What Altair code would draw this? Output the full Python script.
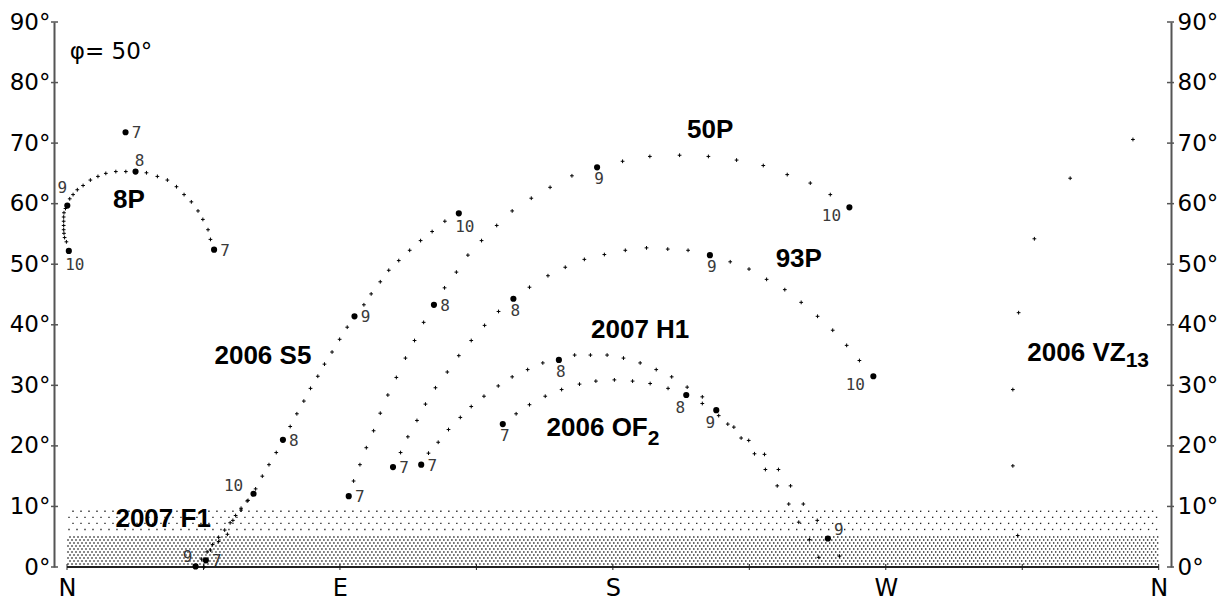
import altair as alt
import pandas as pd

# ---------------------------------------------------------------------------
# Comet paths across the sky, July - October 2007, observer at latitude 50 N.
# Azimuth in degrees from North through East, altitude in degrees.
# Points are a few days apart; *_MONTHS gives the index of the point that
# falls on the 1st of a month (7 = July ... 10 = October).
# ---------------------------------------------------------------------------

C8P_AZ = [48.5, 47.3, 46.5, 44.8, 43.2, 41.0, 38.6, 36.1, 33.1, 29.8, 26.2,
          22.6, 19.4, 16.1, 12.8, 10.2, 7.7, 5.3, 3.4, 2.0, 0.9,
          0.1, -0.5, -1.0, -1.1, -1.1, -1.1, -1.1, -1.0, -0.8, -0.2, 0.6]
C8P_ALT = [52.4, 54.1, 55.7, 57.4, 58.8, 60.3, 61.5, 62.8, 63.9, 64.5, 65.1,
           65.3, 65.3, 65.3, 65.0, 64.5, 63.9, 63.0, 62.3, 61.5, 60.8,
           59.7, 59.2, 58.5, 57.8, 57.1, 56.4, 55.7, 55.1, 54.4, 53.7, 52.2]
C8P_MONTHS = {0: 7, 11: 8, 21: 9, 31: 10}

VZ13_AZ = [19.3, 351.5, 330.8, 319.0, 313.8, 311.9, 311.9, 313.5]
VZ13_ALT = [71.8, 70.6, 64.2, 54.2, 42.0, 29.3, 16.7, 5.2]
VZ13_MONTHS = {0: 7}

S5_AZ = [45.2, 45.8, 47.3, 50.0, 52.9, 54.7, 57.4, 59.7, 62.2, 64.4, 66.6, 69.0,
         71.2, 73.6, 75.8, 78.1, 80.3, 82.7, 84.9, 87.4, 89.9, 92.4,
         94.8, 97.9, 100.3, 103.3, 106.1, 109.4, 113.0, 116.6, 120.4, 124.6, 129.2]
S5_ALT = [0.0, 1.1, 2.8, 4.2, 5.4, 7.7, 9.4, 11.0, 12.9, 15.0, 16.9, 18.9,
          21.0, 23.2, 25.3, 27.4, 29.5, 31.5, 33.5, 35.5, 37.6, 39.6,
          41.4, 43.3, 45.1, 47.1, 49.0, 50.6, 52.3, 53.9, 55.4, 57.1, 58.4]
S5_MONTHS = {1: 7, 12: 8, 22: 9, 32: 10}

F1_AZ = [42.4, 44.4, 46.2, 48.0, 50.0, 52.0, 53.8, 55.6, 57.4, 59.4, 61.5]
F1_ALT = [0.1, 1.3, 2.5, 3.7, 4.9, 6.1, 7.3, 8.5, 9.7, 10.9, 12.1]
F1_MONTHS = {0: 9, 10: 10}

C50P_AZ = [92.9, 94.5, 96.6, 98.7, 101.1, 103.3, 105.8, 108.6, 111.6, 114.6, 117.6,
           121.0, 124.5, 128.4, 132.2, 136.7, 141.7, 146.8, 153.1, 159.3, 166.5,
           174.8, 183.2, 192.2, 202.0, 211.5, 220.8, 229.6, 237.5, 245.1, 251.7, 258.0]
C50P_ALT = [11.7, 14.2, 16.9, 19.7, 22.5, 25.4, 28.4, 31.3, 34.5, 37.4, 40.4,
            43.3, 46.1, 48.7, 51.5, 53.9, 56.4, 58.8, 60.9, 62.7, 64.6,
            66.0, 67.0, 67.8, 68.0, 67.8, 67.2, 66.3, 64.8, 63.4, 61.5, 59.4]
C50P_MONTHS = {0: 7, 11: 8, 21: 9, 31: 10}

C93P_AZ = [107.5, 110.0, 112.4, 115.4, 118.2, 121.5, 125.4, 129.2, 133.3, 137.7, 142.3,
           147.2, 152.5, 158.6, 164.3, 170.6, 177.2, 184.1, 191.1, 198.1, 204.8,
           212.0, 218.7, 224.9, 230.7, 236.7, 242.1, 247.5, 252.5, 257.1, 261.3, 265.9]
C93P_ALT = [16.5, 18.9, 21.5, 24.2, 26.9, 29.6, 32.2, 34.9, 37.4, 39.9, 42.2,
            44.3, 46.2, 48.1, 49.5, 50.8, 51.6, 52.3, 52.7, 52.5, 52.3,
            51.5, 50.4, 49.2, 47.5, 45.8, 43.7, 41.4, 39.1, 36.6, 34.1, 31.5]
C93P_MONTHS = {0: 7, 11: 8, 21: 9, 31: 10}

H1_AZ = [116.8, 119.2, 122.4, 125.8, 129.7, 133.3, 137.5, 142.2, 146.8, 151.9, 156.9,
         162.2, 167.4, 172.6, 178.1, 183.5, 189.0, 194.3, 199.4, 204.5, 209.5,
         214.1, 217.9, 222.3, 226.7, 230.3, 234.2, 238.0, 241.3, 244.8, 247.9]
H1_ALT = [16.9, 18.8, 20.6, 22.7, 24.7, 26.5, 28.2, 29.9, 31.4, 32.6, 33.7,
          34.2, 35.0, 35.0, 35.0, 34.5, 33.7, 32.6, 31.4, 29.7, 28.1,
          25.9, 23.6, 21.3, 18.7, 16.1, 13.4, 10.4, 7.4, 4.5, 1.6]
H1_MONTHS = {0: 7, 11: 8, 21: 9}

OF2_AZ = [143.7, 148.1, 152.5, 157.7, 163.1, 169.0, 174.4, 180.5, 186.5, 192.3, 198.2,
          204.2, 209.5, 214.9, 219.9, 224.8, 230.0, 234.6, 238.6, 242.8, 247.4,
          250.9, 254.7]
OF2_ALT = [23.6, 25.3, 26.8, 28.2, 29.3, 30.2, 30.7, 30.9, 30.7, 30.3, 29.5,
           28.4, 27.0, 25.0, 23.1, 20.9, 18.6, 16.1, 13.4, 10.4, 7.7,
           4.7, 1.8]
OF2_MONTHS = {0: 7, 11: 8, 21: 9}

# comet names and where they sit (azimuth, altitude)
NAMES = ["8P", "50P", "93P", "2007 H1", "2006 S5", "2007 F1"]
NAME_AZ = [20.4, 212.1, 241.3, 189.0, 64.6, 31.7]
NAME_ALT = [60.6, 72.1, 50.9, 39.2, 34.8, 8.0]

# designations with a subscript part
SUB_BASE = ["2006 OF", "2006 VZ"]
SUB_TEXT = ["2", "13"]
SUB_AZ = [191.5, 349.1]
SUB_BASE_ALT = [22.9, 35.3]
SUB_TEXT_ALT = [21.2, 34.0]

LATITUDE_NOTE = "\u03c6= 50\u00b0"
COMPASS = ["N", "E", "S", "W", "N"]
COMPASS_AZ = [0, 90, 180, 270, 360]
TICK_AZ = [0, 45, 90, 135, 180, 225, 270, 315, 360]
ALT_TICKS = [0, 10, 20, 30, 40, 50, 60, 70, 80, 90]
HORIZON = [0, 360]

TRACKS = [
    ("8P", C8P_AZ, C8P_ALT, C8P_MONTHS),
    ("2006 VZ13", VZ13_AZ, VZ13_ALT, VZ13_MONTHS),
    ("2006 S5", S5_AZ, S5_ALT, S5_MONTHS),
    ("2007 F1", F1_AZ, F1_ALT, F1_MONTHS),
    ("50P", C50P_AZ, C50P_ALT, C50P_MONTHS),
    ("93P", C93P_AZ, C93P_ALT, C93P_MONTHS),
    ("2007 H1", H1_AZ, H1_ALT, H1_MONTHS),
    ("2006 OF2", OF2_AZ, OF2_ALT, OF2_MONTHS),
]

# where each month number sits relative to its dot
LABEL_PLACE = {
    ("8P", 7): "right", ("8P", 8): "above", ("8P", 9): "above_left", ("8P", 10): "below_right",
    ("2006 VZ13", 7): "right",
    ("2006 S5", 7): "right", ("2006 S5", 8): "right", ("2006 S5", 9): "right",
    ("2006 S5", 10): "below_right",
    ("2007 F1", 9): "left", ("2007 F1", 10): "far_left",
    ("50P", 7): "right", ("50P", 8): "right", ("50P", 9): "below", ("50P", 10): "far_below_left",
    ("93P", 7): "right", ("93P", 8): "below", ("93P", 9): "below", ("93P", 10): "far_below_left",
    ("2007 H1", 7): "right", ("2007 H1", 8): "below", ("2007 H1", 9): "below_left",
    ("2006 OF2", 7): "below", ("2006 OF2", 8): "below_left", ("2006 OF2", 9): "above_right",
}
PLACE_OFFSET = {
    "right": (11, 1), "above": (4, -11), "above_left": (-5, -17), "left": (-8, -9),
    "far_left": (-20, -8), "below": (2, 12), "below_left": (-6, 13),
    "far_below_left": (-18, 9), "below_right": (6, 14), "above_right": (11, -9),
}

rows = []
for name, az_list, alt_list, months in TRACKS:
    for i, (a, h) in enumerate(zip(az_list, alt_list)):
        rows.append({"comet": name, "az": a, "alt": h, "month": months.get(i, 0)})
pts = pd.DataFrame(rows)
days = pts[pts["month"] == 0]
firsts = pts[pts["month"] > 0].copy()
firsts["text"] = firsts["month"].astype(str)
firsts["place"] = [LABEL_PLACE[(c, m)] for c, m in zip(firsts["comet"], firsts["month"])]

W, H = 1117, 545
XS = alt.Scale(domain=[-4.29, 364.05], nice=False, zero=False)
YS = alt.Scale(domain=[0, 90], nice=False, zero=False)

X_AXIS = alt.Axis(values=COMPASS_AZ,
                  labelExpr="['" + "','".join(COMPASS) + "'][round(datum.value / 90)]",
                  labelFont="DejaVu Sans", labelFontSize=24, labelColor="#000",
                  labelPadding=9, domain=False, ticks=False, grid=False, title=None)


def y_axis(orient, pad):
    return alt.Axis(orient=orient, values=ALT_TICKS, labelExpr="datum.value + '\u00b0'",
                    labelFont="DejaVu Sans", labelFontSize=23, labelColor="#000",
                    labelPadding=pad, ticks=False, domainColor="#555", domainWidth=2,
                    grid=False, title=None)


def xe(field):
    return alt.X(field, scale=XS, axis=X_AXIS)


def ye(field, axis=None):
    return alt.Y(field, scale=YS, axis=axis)


# stippled bands near the horizon: dense below 5 deg, sparse 6-9 deg
DENSE_COLS, DENSE_ROWS = 274, 10
dense = (
    alt.Chart(alt.sequence(0, DENSE_COLS * DENSE_ROWS, as_="i"))
    .transform_calculate(row=f"floor(datum.i / {DENSE_COLS})", col=f"datum.i % {DENSE_COLS}")
    .transform_calculate(az="(datum.col + 0.25 + (datum.row % 2) * 0.5) * 1.3186",
                         alt="0.5 + datum.row * 0.4954")
    .transform_filter("datum.az <= 360")
    .mark_square(size=2, color="#222", opacity=1)
    .encode(x=xe("az:Q"), y=ye("alt:Q"))
)
SPARSE_COLS, SPARSE_ROWS = 137, 4
sparse = (
    alt.Chart(alt.sequence(0, SPARSE_COLS * SPARSE_ROWS, as_="i"))
    .transform_calculate(row=f"floor(datum.i / {SPARSE_COLS})", col=f"datum.i % {SPARSE_COLS}")
    .transform_calculate(az="(datum.col + 0.25 + (datum.row % 2) * 0.5) * 2.637",
                         alt="6.2 + datum.row * 1.0")
    .transform_filter("datum.az <= 360")
    .mark_square(size=1.8, color="#222", opacity=1)
    .encode(x=xe("az:Q"), y=ye("alt:Q"))
)

horizon = (
    alt.Chart(pd.DataFrame({"a0": [HORIZON[0]], "a1": [HORIZON[1]], "h": [0]}))
    .mark_rule(color="#222", strokeWidth=2)
    .encode(x=xe("a0:Q"), x2="a1:Q", y=ye("h:Q"))
)
compass_ticks = (
    alt.Chart(pd.DataFrame({"az": TICK_AZ}))
    .mark_rule(color="#222", strokeWidth=1)
    .encode(x=xe("az:Q"), y=alt.value(H - 3), y2=alt.value(H + 3))
)

tick_df = pd.DataFrame({"v": ALT_TICKS})
left_ticks = (
    alt.Chart(tick_df).mark_rule(color="#555", strokeWidth=1.5)
    .encode(y=ye("v:Q", y_axis("left", 4)), x=alt.value(-3), x2=alt.value(4))
)
right_ticks = (
    alt.Chart(tick_df).mark_rule(color="#555", strokeWidth=1.5)
    .encode(y=ye("v:Q", y_axis("right", 6)), x=alt.value(W - 4), x2=alt.value(W + 3))
)

crosses = (
    alt.Chart(days)
    .mark_point(shape="M-1,0H1M0,-1V1", size=14, filled=False, strokeWidth=1,
                color="#000", opacity=1)
    .encode(x=xe("az:Q"), y=ye("alt:Q"))
)
dots = (
    alt.Chart(firsts)
    .mark_circle(size=38, color="#000", opacity=1)
    .encode(x=xe("az:Q"), y=ye("alt:Q"))
)

month_layers = []
for place, (dx, dy) in PLACE_OFFSET.items():
    sub = firsts[firsts["place"] == place]
    if sub.empty:
        continue
    month_layers.append(
        alt.Chart(sub)
        .mark_text(dx=dx, dy=dy, align="center", baseline="middle",
                   font="DejaVu Sans Mono", fontSize=16, color="#3a3a3a")
        .encode(x=xe("az:Q"), y=ye("alt:Q"), text="text:N")
    )

names = (
    alt.Chart(pd.DataFrame({"name": NAMES, "az": NAME_AZ, "alt": NAME_ALT}))
    .mark_text(align="center", baseline="middle", font="Liberation Sans",
               fontWeight="bold", fontSize=26, color="#000")
    .encode(x=xe("az:Q"), y=ye("alt:Q"), text="name:N")
)
sub_base = (
    alt.Chart(pd.DataFrame({"name": SUB_BASE, "az": SUB_AZ, "alt": SUB_BASE_ALT}))
    .mark_text(align="right", baseline="middle", font="Liberation Sans",
               fontWeight="bold", fontSize=26, color="#000")
    .encode(x=xe("az:Q"), y=ye("alt:Q"), text="name:N")
)
sub_text = (
    alt.Chart(pd.DataFrame({"name": SUB_TEXT, "az": SUB_AZ, "alt": SUB_TEXT_ALT}))
    .mark_text(align="left", baseline="middle", font="Liberation Sans",
               fontWeight="bold", fontSize=21, color="#000")
    .encode(x=xe("az:Q"), y=ye("alt:Q"), text="name:N")
)
latitude = (
    alt.Chart(pd.DataFrame({"t": [LATITUDE_NOTE], "az": [0.9], "alt": [85.0]}))
    .mark_text(align="left", baseline="middle", font="DejaVu Sans", fontSize=23, color="#000")
    .encode(x=xe("az:Q"), y=ye("alt:Q"), text="t:N")
)

chart = (
    alt.layer(dense, sparse, horizon, compass_ticks, left_ticks, right_ticks,
              crosses, dots, *month_layers, names, sub_base, sub_text, latitude)
    .resolve_axis(y="independent")
    .properties(width=W, height=H, background="white",
                padding={"left": 54, "top": 22, "right": 61, "bottom": 34},
                autosize=alt.AutoSizeParams(type="none"))
    .configure_view(strokeWidth=0)
)

chart.save("out.html", embed_options={"renderer": "svg", "actions": False})
